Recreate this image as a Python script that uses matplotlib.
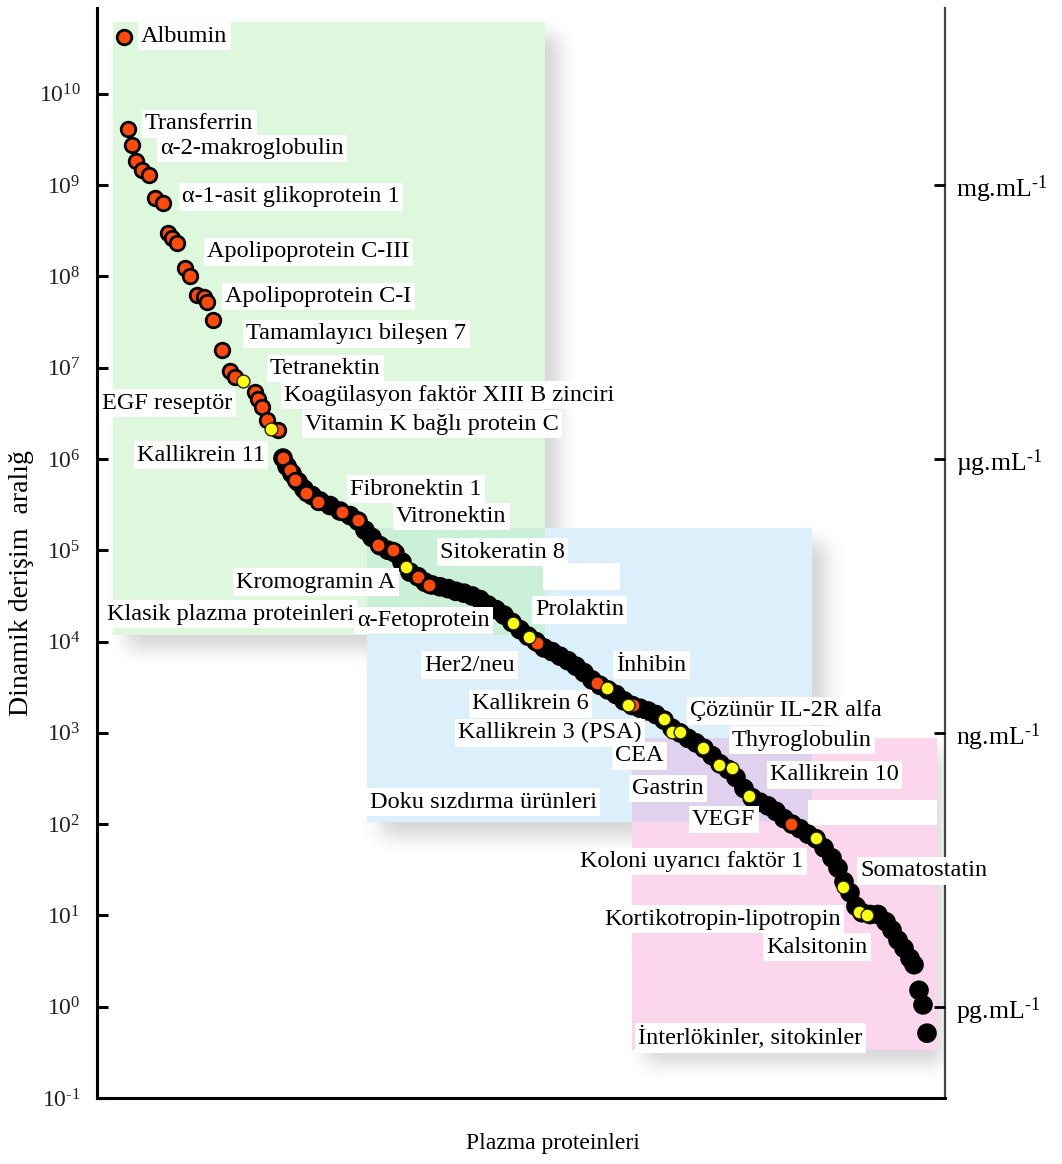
import matplotlib

matplotlib.use("Agg")
import matplotlib.pyplot as plt
import numpy as np
from matplotlib.patches import Rectangle

plt.rcParams["font.family"] = ["Liberation Serif", "DejaVu Serif"]
plt.rcParams["mathtext.fontset"] = "custom"
plt.rcParams["mathtext.rm"] = "Liberation Serif"
plt.rcParams["mathtext.default"] = "regular"

# protein rank (x) and log10 concentration in pg/mL (y)
# classical plasma proteins, upper red dots
red_x = [27, 31, 35, 39, 45, 52, 58, 66, 71, 75, 80, 88, 93, 100, 107, 110, 116,
         125, 133, 138, 158, 161, 165, 170, 181,
         186, 193, 198, 209, 221, 245, 261, 281, 296, 321, 332, 440, 500, 536, 694]
red_log = [10.62, 9.61, 9.44, 9.26, 9.17, 9.11, 8.86, 8.80, 8.48, 8.42, 8.37, 8.09, 8.00,
           7.80, 7.77, 7.72, 7.52, 7.19, 6.96, 6.90, 6.73, 6.66, 6.57, 6.43, 6.32,
           6.01, 5.88, 5.77, 5.63, 5.53, 5.42, 5.33, 5.06, 5.00, 4.71, 4.62, 3.98, 3.55,
           3.31, 2.00]

yellow_x = [146, 174, 309, 416, 432, 510, 531, 567, 575, 583, 606, 622, 635, 652,
            719, 746, 762, 770]
yellow_log = [6.85, 6.33, 4.82, 4.20, 4.05, 3.49, 3.31, 3.15, 3.01, 3.01, 2.83, 2.65,
              2.62, 2.31, 1.85, 1.31, 1.04, 1.01]

band_x = [186, 190, 195, 201, 207, 215, 223, 233, 243, 253, 261, 268, 275, 283, 291,
          298, 305, 313, 321, 328, 335, 343, 351, 359, 367, 375, 383, 391, 399, 407,
          415, 423, 431, 439, 447, 455, 463, 471, 479, 487, 495, 503, 511, 519, 527,
          535, 543, 551, 559, 567, 575, 583, 591, 599, 607, 615, 623, 631, 639, 647,
          655, 663, 671, 679, 687, 695, 703, 711, 719, 727, 735, 741, 747, 753, 759,
          765, 773, 781, 789, 795, 801, 807, 813, 817, 822, 826, 830]
band_log = [6.01, 5.92, 5.84, 5.75, 5.67, 5.60, 5.54, 5.49, 5.43, 5.38, 5.32, 5.22,
            5.14, 5.05, 5.00, 4.97, 4.87, 4.76, 4.71, 4.65, 4.62, 4.60, 4.58, 4.55,
            4.53, 4.50, 4.46, 4.40, 4.35, 4.29, 4.21, 4.13, 4.06, 4.00, 3.93, 3.89,
            3.84, 3.79, 3.73, 3.66, 3.58, 3.52, 3.47, 3.42, 3.35, 3.30, 3.27, 3.24,
            3.20, 3.14, 3.05, 3.00, 2.94, 2.89, 2.83, 2.75, 2.66, 2.60, 2.51, 2.39,
            2.29, 2.24, 2.20, 2.14, 2.06, 2.00, 1.95, 1.89, 1.84, 1.74, 1.63, 1.52,
            1.37, 1.25, 1.10, 1.03, 1.01, 1.01, 0.93, 0.84, 0.73, 0.64, 0.53, 0.46,
            0.18, 0.02, -0.29]

labels = ["Albumin", "Transferrin", "α-2-makroglobulin", "α-1-asit glikoprotein 1",
          "Apolipoprotein C-III", "Apolipoprotein C-I", "Tamamlayıcı bileşen 7",
          "Tetranektin", "Koagülasyon faktör XIII B zinciri", "EGF reseptör",
          "Vitamin K bağlı protein C", "Kallikrein 11", "Fibronektin 1", "Vitronektin",
          "Sitokeratin 8", "Kromogramin A", "Prolaktin", "Klasik plazma proteinleri",
          "α-Fetoprotein", "Her2/neu", "İnhibin", "Kallikrein 6", "Çözünür IL-2R alfa",
          "Kallikrein 3 (PSA)", "Thyroglobulin", "CEA", "Kallikrein 10", "Gastrin",
          "Doku sızdırma ürünleri", "VEGF", "Koloni uyarıcı faktör 1", "Somatostatin",
          "Kortikotropin-lipotropin", "Kalsitonin", "İnterlökinler, sitokinler"]
label_x = [44, 48, 63, 85, 110, 128, 149, 173, 187, 5, 208, 40, 253, 299, 343, 139,
           438, 10, 260, 327, 519, 375, 593, 361, 635, 518, 673, 535, 273, 595, 483,
           763, 507, 669, 541]
label_log = [10.63, 9.67, 9.40, 8.87, 8.27, 7.78, 7.37, 6.99, 6.70, 6.61, 6.38, 6.04,
             5.67, 5.37, 4.98, 4.65, 4.35, 4.30, 4.23, 3.74, 3.74, 3.32, 3.24, 3.00,
             2.92, 2.75, 2.54, 2.39, 2.24, 2.05, 1.59, 1.49, 0.96, 0.65, -0.34]

# shaded groups: (x0, x1, log_bottom, log_top, colour)
groups = [
    (16, 448, 4.07, 10.79, "#ddf8dc"),   # classical plasma proteins
    (270, 715, 2.02, 5.24, "#dcf0fb"),   # tissue leakage products
    (535, 840, -0.47, 2.94, "#fcd6ec"),  # interleukins, cytokines
]
overlaps = [
    (270, 448, 4.07, 5.24, "#caf0d8"),   # green/blue overlap
    (535, 715, 2.02, 2.94, "#e0d2ef"),   # blue/pink overlap
    (446, 523, 4.56, 4.86, "white"),     # empty label boxes
    (711, 840, 1.99, 2.26, "white"),
]

right_ticks = [9, 6, 3, 0]
right_labels = ["mg.mL$^{\\text{-1}}$", "µg.mL$^{\\text{-1}}$",
                "ng.mL$^{\\text{-1}}$", "pg.mL$^{\\text{-1}}$"]

Y_LO, Y_HI = -1.0, 10.94

fig = plt.figure(figsize=(10.62, 11.64), dpi=100)
ax = fig.add_axes([97 / 1062, 66 / 1164, 848 / 1062, 1090 / 1164])
ax.set_yscale("log")
ax.set_xlim(0, 848)
ax.set_ylim(10 ** Y_LO, 10 ** Y_HI)

# soft drop shadow behind the coloured groups
H, W = 1090, 848
mask = np.zeros((H, W))
for x0, x1, lo, hi, _ in groups:
    r0 = int((Y_HI - hi) / (Y_HI - Y_LO) * H)
    r1 = int((Y_HI - lo) / (Y_HI - Y_LO) * H)
    mask[r0 + 14:r1 + 14, x0 + 14:x1 + 14] = 1.0
kern = np.ones(21) / 21
for _ in range(2):
    mask = np.apply_along_axis(lambda r: np.convolve(r, kern, mode="same"), 1, mask)
    mask = np.apply_along_axis(lambda c: np.convolve(c, kern, mode="same"), 0, mask)
shadow = np.zeros((H, W, 4))
shadow[..., :3] = 0.45
shadow[..., 3] = mask * 0.3
ax.imshow(shadow, extent=(0, 1, 0, 1), transform=ax.transAxes, aspect="auto",
          zorder=0, interpolation="bilinear")

for x0, x1, lo, hi, col in groups + overlaps:
    ax.add_patch(Rectangle((x0, 10 ** lo), x1 - x0, 10 ** hi - 10 ** lo,
                           facecolor=col, edgecolor="none", zorder=1))

ax.scatter(band_x, [10 ** v for v in band_log], s=200, color="black",
           edgecolor="none", zorder=2)
ax.scatter(red_x, [10 ** v for v in red_log], s=110, color="#ff4a0a",
           edgecolor="black", linewidth=2.0, zorder=3)
ax.scatter(yellow_x, [10 ** v for v in yellow_log], s=85, color="#ffff10",
           edgecolor="#202000", linewidth=1.0, zorder=3)

for name, x, v in zip(labels, label_x, label_log):
    ax.text(x, 10 ** v, name, fontsize=17.5, ha="left", va="center", zorder=4,
            bbox=dict(facecolor="white", edgecolor="none", pad=2.5))

ax.spines["top"].set_visible(False)
for side in ("left", "bottom"):
    ax.spines[side].set_linewidth(2.2)
ax.spines["right"].set_linewidth(1.6)
ax.spines["right"].set_color("#444444")
ax.set_xticks([])
ax.set_yticks([10.0 ** k for k in range(-1, 11)])
ax.set_yticklabels([f"$10^{{\\text{{{k}}}}}$" for k in range(-1, 11)])
ax.yaxis.set_minor_locator(matplotlib.ticker.NullLocator())
ax.tick_params(axis="y", direction="in", length=8, width=2.2, labelsize=17,
               pad=12, labelcolor="#202020")

ax2 = ax.twinx()
ax2.set_yscale("log")
ax2.set_ylim(ax.get_ylim())
ax2.set_yticks([10.0 ** k for k in right_ticks])
ax2.set_yticklabels(right_labels)
ax2.yaxis.set_minor_locator(matplotlib.ticker.NullLocator())
ax2.tick_params(axis="y", direction="in", length=8, width=2.0, labelsize=18.5, pad=8)
for side in ax2.spines:
    ax2.spines[side].set_visible(False)

ax.set_xlabel("Plazma proteinleri", fontsize=17)
ax.xaxis.set_label_coords(0.538, -0.032)
ax.set_ylabel("Dinamik derişim  aralığ", fontsize=20)
ax.yaxis.set_label_coords(-0.074, 0.472)

fig.savefig("out.png", dpi=100)
